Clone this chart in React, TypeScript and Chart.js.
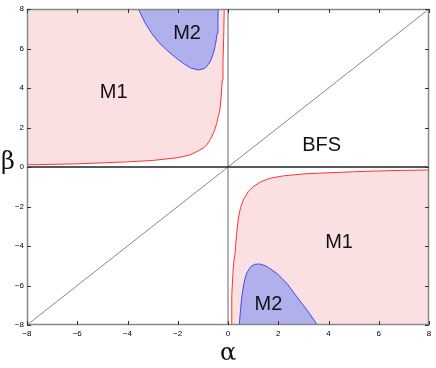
import { useEffect, useRef } from "react";
import { Chart, registerables } from "chart.js";
Chart.register(...registerables);

const axisTicks = [-8, -6, -4, -2, 0, 2, 4, 6, 8];

// Red boundary curve, upper-left quadrant (alpha < 0, beta > 0)
const q2CurveAlpha = [-8, -6, -4, -3, -2, -1.5, -1.2, -1, -0.85, -0.7, -0.55, -0.45, -0.38, -0.32, -0.27, -0.23, -0.2, -0.17, -0.15];
const q2CurveBeta = [0.11, 0.16, 0.26, 0.33, 0.47, 0.62, 0.8, 0.95, 1.11, 1.4, 1.8, 2.2, 2.6, 2.9, 3.6, 4.4, 5.3, 6.6, 8];

// Red boundary curve, lower-right quadrant (alpha > 0, beta < 0)
const q4CurveAlpha = [0.12, 0.15, 0.19, 0.23, 0.28, 0.34, 0.41, 0.5, 0.61, 0.8, 1.0, 1.3, 1.67, 2.2, 3.0, 4.06, 5, 6, 7, 8];
const q4CurveBeta = [-8, -6.5, -5.5, -4.8, -4.37, -3.4, -2.6, -2.05, -1.67, -1.25, -1.0, -0.75, -0.57, -0.45, -0.35, -0.29, -0.24, -0.2, -0.17, -0.15];

// Blue M2 region boundary, upper-left
const q2BlueAlpha = [-3.57, -3.3, -3.04, -2.75, -2.44, -2.1, -1.78, -1.5, -1.18, -0.95, -0.85, -0.7, -0.58, -0.5, -0.43, -0.4, -0.39];
const q2BlueBeta = [8, 7.3, 6.77, 6.3, 5.92, 5.55, 5.25, 5.02, 4.91, 4.98, 5.08, 5.35, 5.76, 6.2, 6.77, 7.4, 8];

// Blue M2 region boundary, lower-right
const q4BlueAlpha = [0.45, 0.5, 0.55, 0.63, 0.74, 0.9, 1.05, 1.25, 1.5, 1.94, 2.35, 2.74, 3.15, 3.56];
const q4BlueBeta = [-8, -7.2, -6.57, -5.9, -5.38, -5.05, -4.93, -4.91, -5.0, -5.38, -5.9, -6.57, -7.25, -8];

const diagAlpha = [-8, 8];
const diagBeta = [-8, 8];

const regionLabels = ["M1", "M2", "BFS", "M1", "M2"];
const labelAlpha = [-4.55, -1.63, 3.73, 4.42, 1.61];
const labelBeta = [3.77, 6.74, 1.11, -3.82, -6.97];

const pts = (xs: number[], ys: number[]) => xs.map((x, i) => ({ x, y: ys[i] }));

const PINK = "rgb(250,224,224)";
const BLUE = "rgb(176,176,236)";

const fmt = (v: any) => (Number(v) < 0 ? "\u2212" + Math.abs(Number(v)) : String(v));

const overlay = {
  id: "overlay",
  afterDatasetsDraw(chart: any) {
    const { ctx, chartArea, scales } = chart;
    const xs = scales.x;
    const ys = scales.y;
    ctx.save();
    // frame
    ctx.strokeStyle = "#888";
    ctx.lineWidth = 1.5;
    ctx.strokeRect(chartArea.left + 0.5, chartArea.top + 0.5, chartArea.right - chartArea.left - 1, chartArea.bottom - chartArea.top - 1);
    // inward ticks
    ctx.strokeStyle = "#333";
    ctx.lineWidth = 1;
    ctx.beginPath();
    const tl = 4;
    axisTicks.forEach((v) => {
      const px = Math.round(xs.getPixelForValue(v)) + 0.5;
      ctx.moveTo(px, chartArea.bottom);
      ctx.lineTo(px, chartArea.bottom - tl);
      ctx.moveTo(px, chartArea.top);
      ctx.lineTo(px, chartArea.top + tl);
      const py = Math.round(ys.getPixelForValue(v)) + 0.5;
      ctx.moveTo(chartArea.left, py);
      ctx.lineTo(chartArea.left + tl, py);
      ctx.moveTo(chartArea.right, py);
      ctx.lineTo(chartArea.right - tl, py);
    });
    ctx.stroke();
    // region labels
    ctx.fillStyle = "#111";
    ctx.font = "20px 'Liberation Sans', Arial, sans-serif";
    ctx.textAlign = "center";
    ctx.textBaseline = "middle";
    regionLabels.forEach((t, i) => {
      ctx.fillText(t, xs.getPixelForValue(labelAlpha[i]), ys.getPixelForValue(labelBeta[i]));
    });
    // axis titles
    ctx.font = "24px 'DejaVu Serif', 'Liberation Serif', serif";
    ctx.fillText("α", (chartArea.left + chartArea.right) / 2, chartArea.bottom + 29);
    ctx.fillText("β", 8, ys.getPixelForValue(0) - 4);
    ctx.restore();
  },
};

export default function App() {
  const ref = useRef<HTMLCanvasElement>(null);
  useEffect(() => {
    const tickFont = { size: 8, family: "'Liberation Sans', Arial, sans-serif" };
    const chart = new Chart(ref.current!, {
      type: "scatter",
      data: {
        datasets: [
          { data: pts(q2CurveAlpha, q2CurveBeta), showLine: true, fill: "end", backgroundColor: PINK, borderColor: "rgb(255,50,50)", borderWidth: 1, pointRadius: 0, order: 10 },
          { data: pts(q4CurveAlpha, q4CurveBeta), showLine: true, fill: "start", backgroundColor: PINK, borderColor: "rgb(255,50,50)", borderWidth: 1, pointRadius: 0, order: 10 },
          { data: pts(q2BlueAlpha, q2BlueBeta), showLine: true, fill: "end", backgroundColor: BLUE, borderColor: "rgb(70,70,240)", borderWidth: 1, pointRadius: 0, order: 8 },
          { data: pts(q4BlueAlpha, q4BlueBeta), showLine: true, fill: "start", backgroundColor: BLUE, borderColor: "rgb(70,70,240)", borderWidth: 1, pointRadius: 0, order: 8 },
          { data: pts(diagAlpha, diagBeta), showLine: true, fill: false, borderColor: "#555", borderWidth: 0.7, pointRadius: 0, order: 6 },
          { data: pts([-8, 8], [0, 0]), showLine: true, fill: false, borderColor: "#222", borderWidth: 1.5, pointRadius: 0, order: 4 },
          { data: pts([0, 0], [-8, 8]), showLine: true, fill: false, borderColor: "#666", borderWidth: 1, pointRadius: 0, order: 4 },
        ],
      },
      options: {
        animation: false,
        responsive: false,
        maintainAspectRatio: false,
        layout: { padding: { top: 9, right: 7, left: 0, bottom: 0 } },
        plugins: { legend: { display: false }, tooltip: { enabled: false } },
        scales: {
          x: {
            type: "linear",
            min: -8,
            max: 8,
            afterBuildTicks: (s: any) => { s.ticks = axisTicks.map((v) => ({ value: v })); },
            afterFit: (s: any) => { s.height = 43; },
            grid: { display: false, drawTicks: false },
            border: { display: false },
            ticks: { font: tickFont, color: "#000", padding: 4, maxRotation: 0, callback: fmt },
          },
          y: {
            type: "linear",
            min: -8,
            max: 8,
            afterBuildTicks: (s: any) => { s.ticks = axisTicks.map((v) => ({ value: v })); },
            afterFit: (s: any) => { s.width = 27; },
            grid: { display: false, drawTicks: false },
            border: { display: false },
            ticks: { font: tickFont, color: "#000", padding: 3, callback: fmt },
          },
        },
      },
      plugins: [overlay],
    } as any);
    return () => chart.destroy();
  }, []);
  return (
    <div style={{ position: "fixed", left: 0, top: 0, width: 436, height: 368, background: "#fff" }}>
      <canvas ref={ref} width={436} height={368} />
    </div>
  );
}
